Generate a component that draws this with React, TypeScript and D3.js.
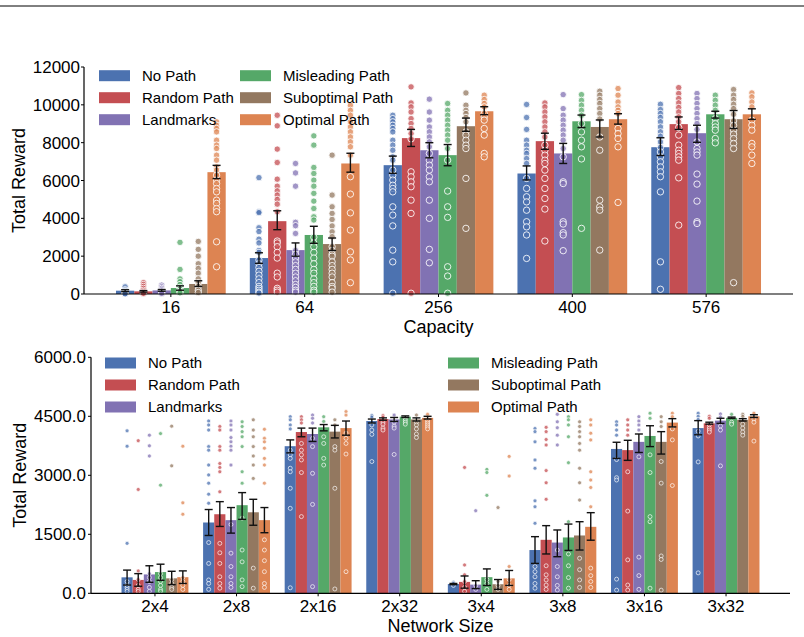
import React from "react";
import * as d3 from "d3";

// Strategy names and their colours (seaborn "deep")
const SERIES = ["No Path", "Random Path", "Landmarks", "Misleading Path", "Suboptimal Path", "Optimal Path"];
const COLORS = ["#4C72B0", "#C44E52", "#8172B3", "#55A868", "#937860", "#DD8452"];

// ---------- Capacity panel ----------
const capacityLabels = ["16", "64", "256", "400", "576"];
const capacityTicks = [0, 2000, 4000, 6000, 8000, 10000, 12000];

const capMeanNoPath = [175, 1900, 6810, 6370, 7760];
const capMeanRandom = [140, 3850, 8240, 8080, 8980];
const capMeanLandmarks = [190, 2320, 7600, 7430, 8500];
const capMeanMisleading = [315, 3120, 7340, 9130, 9500];
const capMeanSuboptimal = [530, 2640, 8870, 8830, 9240];
const capMeanOptimal = [6440, 6900, 9660, 9240, 9500];

const capCiNoPath = [[125, 225], [1620, 2180], [6380, 7290], [6030, 6770], [7320, 8260]];
const capCiRandom = [[100, 180], [3400, 4400], [7800, 8700], [7650, 8500], [8700, 9360]];
const capCiLandmarks = [[145, 235], [2000, 2700], [7200, 8000], [6900, 7960], [8020, 8920]];
const capCiMisleading = [[200, 430], [2680, 3580], [6780, 7900], [8800, 9460], [9300, 9660]];
const capCiSuboptimal = [[400, 700], [2300, 2960], [8600, 9300], [8300, 9200], [8750, 9700]];
const capCiOptimal = [[6100, 6800], [6440, 7440], [9480, 9900], [8980, 9530], [9230, 9790]];

const capPtsNoPath = [
  [380, 220, 160, 120, 90, 60, 40, 20, 10],
  [6150, 4350, 4300, 3500, 3300, 2900, 2700, 2300, 2200, 1800, 1600, 1400, 1200, 1000, 800, 600, 400, 300, 200, 100, 50],
  [9450, 9270, 9100, 8920, 8750, 8570, 8130, 7870, 7600, 7250, 7075, 6550, 6280, 6020, 5750, 5580, 5400, 4610, 4170, 3600, 2320, 1700, 40],
  [10020, 9330, 8700, 8130, 7870, 7600, 7430, 7160, 6900, 6110, 5580, 5140, 4870, 4430, 3820, 3550, 3120, 1880],
  [10030, 9750, 9540, 9330, 9100, 8830, 8570, 8340, 8040, 7750, 7510, 7250, 6990, 6720, 6460, 6200, 5400, 1700, 250],
];
const capPtsRandom = [
  [600, 500, 400, 300, 200, 120, 60, 30],
  [9450, 8890, 7660, 6950, 6070, 5700, 5450, 5230, 5000, 4750, 4350, 2800, 2700, 2500, 2200, 1900, 1100, 900, 300, 200, 100],
  [10950, 10100, 9890, 9620, 9270, 9010, 8750, 8480, 8200, 6460, 6200, 5930, 5670, 4960, 4260, 40],
  [10100, 9890, 9620, 9360, 9100, 8830, 8570, 8300, 7870, 7600, 7340, 7075, 6900, 6550, 6110, 5580, 5050, 4490, 2800],
  [10910, 10600, 10330, 10100, 9860, 9620, 9360, 9100, 8800, 8400, 7870, 7600, 7430, 7250, 7075, 6140, 3640],
];
const capPtsLandmarks = [
  [470, 380, 300, 220, 150, 80, 30],
  [6900, 6400, 5700, 3790, 3610, 3200, 2300, 2100, 1900, 1700, 1500, 1300, 1100, 900, 700, 500, 350, 200, 100],
  [10300, 9620, 9190, 8830, 8570, 8300, 8040, 7780, 7430, 7075, 6810, 6550, 6200, 5930, 4960, 4000, 2360, 1650],
  [10540, 9800, 9450, 9190, 8920, 8660, 8400, 8130, 7690, 7250, 5930, 5840, 3820, 3700, 3240, 3120, 2290],
  [10600, 10330, 10070, 9800, 9540, 9270, 9010, 8700, 8040, 7690, 7510, 7340, 6340, 5810, 4910, 3820, 3730],
];
const capPtsMisleading = [
  [2730, 1300, 800, 650, 500, 350, 250, 150, 60],
  [8360, 7870, 6690, 6370, 6020, 5700, 5320, 4910, 4520, 4080, 3910, 3000, 2700, 2500, 2200, 1900, 1600, 1300, 1100, 800, 600, 400, 200, 100],
  [10070, 9710, 9450, 9190, 8920, 8660, 8400, 8130, 7690, 7075, 5440, 4610, 4050, 1440, 950, 40],
  [10540, 10240, 9980, 9710, 9450, 9010, 8570, 8130, 7780, 7140, 3470],
  [10510, 10240, 9980, 9710, 9270, 9010, 8830, 8660, 8220, 7990],
];
const capPtsSuboptimal = [
  [2780, 2360, 2000, 1600, 1350, 1100, 800, 600, 400, 200, 80],
  [7340, 5230, 4610, 4260, 3940, 3600, 3290, 3030, 2500, 2300, 2100, 2000, 1700, 1500, 1300, 1100, 900, 600, 400, 300, 100],
  [10630, 9980, 9710, 9540, 9330, 9100, 8570, 8400, 8130, 7870, 7690, 6110, 3470],
  [10720, 10510, 10280, 10070, 9800, 9540, 9250, 8300, 7600, 4960, 4610, 4430, 2320],
  [10810, 10510, 10280, 10030, 9800, 9500, 9150, 8920, 8660, 8450, 8220, 7960, 7690, 600],
];
const capPtsOptimal = [
  [9100, 8920, 8750, 8570, 8130, 7870, 7690, 7340, 7075, 6720, 6550, 6280, 6020, 5840, 5580, 5400, 4960, 4790, 4520, 4350, 2760, 1440],
  [9980, 9710, 9450, 9100, 8830, 8570, 8300, 8040, 7780, 7340, 6200, 5280, 4290, 3380, 2230, 1800, 600],
  [10510, 10280, 10070, 9890, 9540, 9360, 9190, 8750, 8400, 7430, 7250],
  [10860, 10510, 10150, 9890, 9710, 9540, 8750, 8480, 8220, 7780, 4840],
  [10630, 10420, 10150, 9890, 9190, 8920, 8660, 7960, 7780, 7340, 6900],
];

// ---------- Network size panel ----------
const networkLabels = ["2x4", "2x8", "2x16", "2x32", "3x4", "3x8", "3x16", "3x32"];
const networkTicks = [0, 1500, 3000, 4500, 6000];

const netMeanNoPath = [406, 1800, 3740, 4380, 236, 1100, 3670, 4200];
const netMeanRandom = [340, 2010, 4100, 4430, 290, 1360, 3640, 4320];
const netMeanLandmarks = [480, 1860, 4050, 4420, 220, 1290, 3850, 4390];
const netMeanMisleading = [540, 2240, 4220, 4490, 410, 1420, 4000, 4460];
const netMeanSuboptimal = [380, 2060, 4110, 4420, 230, 1470, 3850, 4410];
const netMeanOptimal = [410, 1860, 4200, 4460, 380, 1690, 4340, 4500];

const netCiNoPath = [[210, 590], [1470, 2130], [3570, 3900], [4330, 4430], [220, 250], [760, 1440], [3430, 3840], [4030, 4390]];
const netCiRandom = [[180, 500], [1700, 2330], [3980, 4200], [4400, 4460], [130, 440], [1000, 1720], [3380, 3890], [4300, 4350]];
const netCiLandmarks = [[280, 700], [1530, 2180], [3860, 4200], [4370, 4470], [120, 320], [930, 1610], [3580, 4050], [4320, 4450]];
const netCiMisleading = [[330, 740], [1880, 2560], [4130, 4290], [4470, 4510], [200, 620], [1090, 1760], [3730, 4260], [4450, 4480]];
const netCiSuboptimal = [[220, 560], [1730, 2390], [3950, 4270], [4380, 4460], [100, 350], [1100, 1820], [3540, 4110], [4380, 4440]];
const netCiOptimal = [[250, 570], [1540, 2180], [4020, 4380], [4430, 4500], [200, 580], [1350, 2050], [4230, 4440], [4470, 4540]];

const netPtsNoPath = [
  [4130, 3740, 1270, 300, 200, 150, 100, 50],
  [4380, 4280, 4150, 3730, 3640, 3260, 3010, 2800, 2520, 2290, 1290, 760, 340, 250, 100],
  [4490, 4410, 4280, 4180, 3640, 3520, 3430, 3180, 3090, 2670, 2160, 140],
  [4520, 4480, 4280, 4150, 4040, 3350],
  [280, 250, 200],
  [4190, 4110, 3850, 3390, 3180, 2350, 2200, 1780, 680, 550, 420, 250, 130],
  [4360, 4280, 4150, 4020, 3400, 2940, 2880, 360, 80],
  [4580, 4500, 4420, 4120, 4000, 3340, 520],
];
const netPtsRandom = [
  [3880, 2640, 570, 350, 200, 100, 50],
  [4240, 4150, 3730, 3640, 3300, 3200, 3090, 2580, 1270, 1030, 760, 420, 250, 130],
  [4490, 4410, 4330, 3810, 3640, 3520, 3390, 3070, 1950],
  [4520, 4480, 4350, 4300, 4200, 4150],
  [3200, 720, 470, 300, 150, 50],
  [4220, 4110, 3910, 3770, 3120, 2810, 2390, 700, 470, 340, 210, 100],
  [4410, 4280, 4150, 4020, 3090, 2090, 850, 210, 80],
  [4500, 4450, 4280, 4200, 4150, 4100],
];
const netPtsLandmarks = [
  [4020, 3750, 3490, 500, 400, 300, 150, 50],
  [4380, 4280, 4150, 3960, 3850, 3740, 3640, 3260, 1750, 1020, 680, 420, 250, 150],
  [4530, 4450, 4330, 3940, 3730, 3050, 2260, 170],
  [4530, 4350, 4250, 4200, 3530],
  [2100, 200, 100],
  [4550, 4360, 4210, 4020, 3770, 1100, 680, 420, 200, 80],
  [4490, 4380, 4280, 4150, 3470, 920, 450, 100],
  [4560, 4480, 4250, 4150, 3240],
];
const netPtsMisleading = [
  [4060, 2750, 500, 400, 300, 200, 100, 50],
  [4360, 4240, 4110, 3980, 3730, 3090, 2800, 1910, 1100, 800, 340, 170],
  [4490, 4370, 3980, 3810, 3430, 3260],
  [4450, 4400, 4350, 4300],
  [3150, 3070, 2490, 350, 250, 100],
  [4490, 4410, 4280, 3980, 3320, 1820, 1000, 700, 400, 130],
  [4580, 4450, 3520, 3070, 1950, 1820, 130],
  [4550, 4350, 4300],
];
const netPtsSuboptimal = [
  [4250, 3240, 350, 250, 150, 100],
  [4410, 4150, 3980, 3730, 3490, 3260, 2920, 640, 130],
  [4410, 4280, 3730, 3640, 2670, 110],
  [4530, 4350, 4280, 4180, 4050, 3960],
  [2180, 300, 200, 100],
  [4360, 4240, 4110, 3980, 3810, 3640, 3180, 2810, 2370, 890, 600, 340, 150],
  [4490, 4360, 4240, 3350, 2800, 950, 860, 80],
  [4550, 4500, 4300, 4200, 4100, 4020],
];
const netPtsOptimal = [
  [3740, 2300, 2010, 400, 300, 200, 100],
  [4170, 3940, 3850, 3690, 3430, 3260, 2800, 1360, 1100, 830, 550, 250, 150],
  [4620, 4530, 4070, 3940, 3810, 3540, 550],
  [4550, 4380, 4330, 4280, 4230, 4180],
  [3480, 2980, 680, 350, 200, 100],
  [4410, 4280, 4070, 3900, 3090, 2880, 2690, 2200, 640, 450, 300, 150],
  [4580, 4490, 4180, 3900, 2740],
  [4580, 4430, 4350, 3870],
];

const FONT = "'Liberation Sans', Arial, Helvetica, sans-serif";
const GROUP_WIDTH = 0.82;

type PanelProps = {
  categories: string[];
  means: number[][];
  cis: number[][][];
  points: number[][][];
  yTicks: number[];
  yFormat: (v: number) => string;
  xDomain: [number, number];
  xRange: [number, number];
  yRange: [number, number];
  xLabel: string;
  xLabelY: number;
  tickLabelY: number;
  yLabelX: number;
  labelGap: number;
  pointR: number;
  legend: { cols: number[][]; patchX: number[]; rowY: number[] };
};

function Panel(p: PanelProps) {
  const x = d3.scaleLinear().domain(p.xDomain).range(p.xRange);
  const y = d3.scaleLinear().domain([0, p.yTicks[p.yTicks.length - 1]]).range(p.yRange);
  const n = SERIES.length;
  const bw = GROUP_WIDTH / n;
  const barLeft = (c: number, s: number) => x(c - GROUP_WIDTH / 2 + s * bw);
  const barCenter = (c: number, s: number) => x(c - GROUP_WIDTH / 2 + (s + 0.5) * bw);
  const pxW = x(bw) - x(0);
  const axisX = p.xRange[0];
  const y0 = y(0);
  const yTop = y(p.yTicks[p.yTicks.length - 1]);
  const yMid = (y0 + yTop) / 2;

  return (
    <g fontFamily={FONT}>
      {/* bars */}
      {SERIES.map((_, s) =>
        p.categories.map((_, c) => (
          <rect
            key={`b${s}-${c}`}
            x={barLeft(c, s)}
            y={y(p.means[s][c])}
            width={pxW}
            height={y0 - y(p.means[s][c])}
            fill={COLORS[s]}
          />
        ))
      )}
      {/* individual runs */}
      {SERIES.map((_, s) =>
        p.categories.map((_, c) =>
          p.points[s][c].map((v, k) => (
            <circle
              key={`p${s}-${c}-${k}`}
              cx={barCenter(c, s)}
              cy={y(v)}
              r={p.pointR}
              fill={COLORS[s]}
              fillOpacity={0.75}
              stroke="#ffffff"
              strokeOpacity={0.85}
              strokeWidth={p.pointR > 2.5 ? 1 : 0.8}
            />
          ))
        )
      )}
      {/* confidence intervals */}
      {SERIES.map((_, s) =>
        p.categories.map((_, c) => {
          const cx = barCenter(c, s);
          const [lo, hi] = p.cis[s][c];
          return (
            <g key={`e${s}-${c}`} stroke="#111" strokeWidth={1.4}>
              <line x1={cx} x2={cx} y1={y(lo)} y2={y(hi)} />
              <line x1={cx - 4} x2={cx + 4} y1={y(lo)} y2={y(lo)} />
              <line x1={cx - 4} x2={cx + 4} y1={y(hi)} y2={y(hi)} />
            </g>
          );
        })
      )}
      {/* axes */}
      <line x1={axisX} x2={axisX} y1={yTop} y2={y0} stroke="#000" strokeWidth={1.2} />
      <line x1={axisX} x2={p.xRange[1]} y1={y0} y2={y0} stroke="#000" strokeWidth={1.2} />
      {p.yTicks.map((t) => (
        <g key={`yt${t}`}>
          <line x1={axisX - 3} x2={axisX} y1={y(t)} y2={y(t)} stroke="#000" strokeWidth={1} />
          <text x={axisX - p.labelGap} y={y(t)} dy="0.36em" textAnchor="end" fontSize={17} fill="#000">
            {p.yFormat(t)}
          </text>
        </g>
      ))}
      {p.categories.map((lab, c) => (
        <g key={`xt${lab}`}>
          <line x1={x(c)} x2={x(c)} y1={y0} y2={y0 + 3} stroke="#000" strokeWidth={1} />
          <text x={x(c)} y={p.tickLabelY} textAnchor="middle" fontSize={17} fill="#000">
            {lab}
          </text>
        </g>
      ))}
      <text x={(p.xRange[0] + p.xRange[1]) / 2} y={p.xLabelY} textAnchor="middle" fontSize={18} fill="#000">
        {p.xLabel}
      </text>
      <text
        transform={`translate(${p.yLabelX},${yMid}) rotate(-90)`}
        textAnchor="middle"
        dy="0.36em"
        fontSize={18}
        fill="#000"
      >
        Total Reward
      </text>
      {/* legend */}
      {p.legend.cols.map((col, ci) =>
        col.map((s, ri) => (
          <g key={`l${s}`}>
            <rect x={p.legend.patchX[ci]} y={p.legend.rowY[ri] - 5.5} width={31} height={11} fill={COLORS[s]} />
            <text
              x={p.legend.patchX[ci] + 43}
              y={p.legend.rowY[ri]}
              dy="0.36em"
              fontSize={15}
              fill="#000"
            >
              {SERIES[s]}
            </text>
          </g>
        ))
      )}
    </g>
  );
}

export default function App() {
  return (
    <svg
      width={804}
      height={637}
      viewBox="0 0 804 637"
      style={{ position: "absolute", left: 0, top: 0, display: "block", background: "#fff" }}
    >
      <rect width={804} height={637} fill="#fff" />
      <line x1={0} x2={804} y1={6} y2={6} stroke="#000" strokeWidth={1} />
      <Panel
        categories={capacityLabels}
        means={[capMeanNoPath, capMeanRandom, capMeanLandmarks, capMeanMisleading, capMeanSuboptimal, capMeanOptimal]}
        cis={[capCiNoPath, capCiRandom, capCiLandmarks, capCiMisleading, capCiSuboptimal, capCiOptimal]}
        points={[capPtsNoPath, capPtsRandom, capPtsLandmarks, capPtsMisleading, capPtsSuboptimal, capPtsOptimal]}
        yTicks={capacityTicks}
        yFormat={(v) => d3.format("d")(v)}
        xDomain={[-0.649, 4.649]}
        xRange={[84, 793]}
        yRange={[294, 67]}
        xLabel="Capacity"
        xLabelY={333}
        tickLabelY={312.5}
        yLabelX={19}
        labelGap={4}
        pointR={3.2}
        legend={{ cols: [[0, 1, 2], [3, 4, 5]], patchX: [99, 240], rowY: [75.7, 97.7, 119.7] }}
      />
      <Panel
        categories={networkLabels}
        means={[netMeanNoPath, netMeanRandom, netMeanLandmarks, netMeanMisleading, netMeanSuboptimal, netMeanOptimal]}
        cis={[netCiNoPath, netCiRandom, netCiLandmarks, netCiMisleading, netCiSuboptimal, netCiOptimal]}
        points={[netPtsNoPath, netPtsRandom, netPtsLandmarks, netPtsMisleading, netPtsSuboptimal, netPtsOptimal]}
        yTicks={networkTicks}
        yFormat={(v) => d3.format(".1f")(v)}
        xDomain={[-0.784, 7.784]}
        xRange={[91, 790]}
        yRange={[593.3, 357.3]}
        xLabel="Network Size"
        xLabelY={632}
        tickLabelY={612}
        yLabelX={20}
        labelGap={5}
        pointR={2}
        legend={{ cols: [[0, 1, 2], [3, 4, 5]], patchX: [105, 448], rowY: [363, 385, 407] }}
      />
    </svg>
  );
}
